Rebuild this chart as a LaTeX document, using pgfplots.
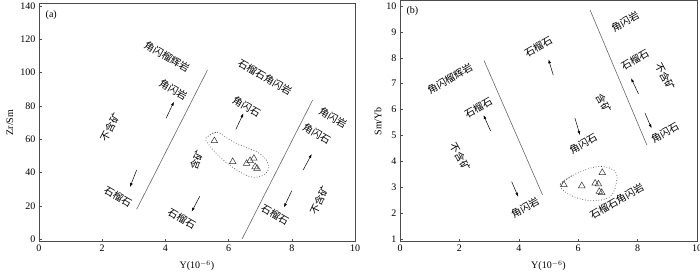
\documentclass[border=0pt]{standalone}
\usepackage{fontspec}
\setmainfont{Liberation Serif}
\newfontfamily\cjk{Noto Sans CJK SC}
\usepackage{pgfplots}
\pgfplotsset{compat=1.18}
\usetikzlibrary{arrows.meta}
\begin{document}
\begin{tikzpicture}
\useasboundingbox (0pt,0pt) rectangle (700pt,277pt);
\pgfplotsset{
  every axis/.append style={
    scale only axis,
    axis line style={black!70, line width=0.7pt},
    tick style={black!70, line width=0.5pt},
    tick align=inside,
    major tick length=3pt,
    xtick pos=bottom, ytick pos=left,
    xmin=0, xmax=10,
    xtick={0,2,4,6,8,10},
    clip=false,
    /pgf/number format/assume math mode=true,
    tick label style={font=\fontsize{10}{12}\selectfont},
    label style={font=\fontsize{10}{12}\selectfont},
    x label style={at={(axis description cs:0.5,0)}, anchor=center, yshift=-24pt},
  },
  bnd/.style={black!60, line width=0.6pt, no marks},
  arr/.style={black, line width=0.5pt, no marks, -{Latex[length=4pt,width=2.8pt]}},
  ell/.style={black!70, dotted, line width=0.7pt, no marks, smooth, tension=0.6},
  pts/.style={only marks, mark=triangle, mark size=3.8pt, black!80, mark options={fill=white, line width=0.5pt}},
}
\newcommand{\zh}[1]{{\cjk\fontsize{10}{12}\selectfont #1}}
% ---------------- panel (a)
\begin{axis}[
  at={(39pt,35.3pt)}, anchor=south west,
  width=316pt, height=238.4pt,
  ymin=-1.4, ymax=141.6, ytick={0,20,...,140},
  xlabel={Y(10$^{-6}$)},
  ylabel={Zr/Sm},
  y label style={at={(axis description cs:-0.092,0.5)}, anchor=center},
]
\addplot[bnd] coordinates {(3.09,18.0) (5.33,101.5)};
\addplot[bnd] coordinates {(6.43,0.4) (8.66,83.6)};
\addplot[arr] coordinates {(4.02,72.6) (4.27,82.5)};
\addplot[arr] coordinates {(3.09,41.6) (2.88,31.4)};
\addplot[arr] coordinates {(6.23,66.0) (6.47,75.6)};
\addplot[arr] coordinates {(5.09,25.9) (4.83,16.6)};
\addplot[arr] coordinates {(8.36,41.6) (8.63,51.2)};
\addplot[arr] coordinates {(8.00,29.2) (7.75,19.2)};
\addplot[ell] coordinates {(5.28,60.6) (5.62,64.3) (6.15,58.5) (6.89,52.5) (7.20,47.6) (7.26,42.0) (7.05,38.0) (6.68,37.6) (6.26,41.6) (5.83,47.6) (5.47,54.6) (5.28,60.6) (5.62,64.3)};
\addplot[pts] coordinates {(5.55,59.1) (6.13,46.6) (6.57,45.5) (6.68,47.2) (6.80,48.6) (6.84,43.5) (6.90,42.6)};
\node[anchor=north west] at (axis cs:0.1,139.5) {\fontsize{10}{12}\selectfont (a)};
\node[rotate=-30] at (axis cs:4.05,109.4) {\zh{角闪榴辉岩}};
\node[rotate=-30] at (axis cs:4.25,89.6) {\zh{角闪岩}};
\node[rotate=62] at (axis cs:2.25,67.3) {\zh{不含矿}};
\node[rotate=-30] at (axis cs:2.50,25.3) {\zh{石榴石}};
\node[rotate=-30] at (axis cs:7.15,97.3) {\zh{石榴石角闪岩}};
\node[rotate=-30] at (axis cs:6.57,79.6) {\zh{角闪石}};
\node[rotate=70] at (axis cs:4.99,47.6) {\zh{含矿}};
\node[rotate=-30] at (axis cs:4.52,12.6) {\zh{石榴石}};
\node[rotate=-30] at (axis cs:9.30,72.7) {\zh{角闪岩}};
\node[rotate=-30] at (axis cs:8.79,63.5) {\zh{角闪石}};
\node[rotate=65] at (axis cs:8.87,23.6) {\zh{不含矿}};
\node[rotate=-30] at (axis cs:7.47,14.6) {\zh{石榴石}};
\end{axis}
% ---------------- panel (b)
\begin{axis}[
  at={(400pt,35.3pt)}, anchor=south west,
  width=297pt, height=241pt,
  ymin=0.907, ymax=10.2, ytick={1,2,...,10},
  xlabel={Y(10$^{-6}$)},
  ylabel={Sm/Yb},
  y label style={at={(axis description cs:-0.074,0.5)}, anchor=center},
]
\addplot[bnd] coordinates {(2.83,7.89) (4.80,2.71)};
\addplot[bnd] coordinates {(6.40,9.84) (8.31,4.64)};
\addplot[arr] coordinates {(3.05,5.18) (2.81,5.79)};
\addplot[arr] coordinates {(3.76,3.22) (3.98,2.64)};
\addplot[arr] coordinates {(5.16,7.33) (5.00,7.94)};
\addplot[arr] coordinates {(5.89,5.67) (6.06,5.02)};
\addplot[arr] coordinates {(8.03,6.61) (7.78,7.21)};
\addplot[arr] coordinates {(8.25,5.86) (8.47,5.28)};
\addplot[ell] coordinates {(5.39,3.10) (5.84,3.48) (6.62,3.80) (7.18,3.68) (7.30,3.28) (7.07,2.64) (6.40,2.49) (5.72,2.71) (5.39,3.10) (5.84,3.48)};
\addplot[pts] coordinates {(5.52,3.10) (6.12,3.06) (6.57,3.16) (6.68,3.13) (6.81,3.57) (6.71,2.84) (6.79,2.80)};
\node[anchor=north west] at (axis cs:0.1,10.1) {\fontsize{10}{12}\selectfont (b)};
\node[rotate=30] at (axis cs:1.68,7.21) {\zh{角闪榴辉岩}};
\node[rotate=30] at (axis cs:2.64,6.08) {\zh{石榴石}};
\node[rotate=-60] at (axis cs:2.02,4.18) {\zh{不含矿}};
\node[rotate=30] at (axis cs:4.21,2.20) {\zh{角闪岩}};
\node[rotate=30] at (axis cs:4.66,8.43) {\zh{石榴石}};
\node[rotate=-60] at (axis cs:6.85,6.25) {\zh{含矿}};
\node[rotate=30] at (axis cs:6.17,4.70) {\zh{角闪石}};
\node[rotate=30] at (axis cs:7.30,2.45) {\zh{石榴石角闪岩}};
\node[rotate=30] at (axis cs:7.58,9.39) {\zh{角闪岩}};
\node[rotate=30] at (axis cs:7.91,7.91) {\zh{石榴石}};
\node[rotate=-62] at (axis cs:8.92,7.27) {\zh{不含矿}};
\node[rotate=30] at (axis cs:8.92,5.09) {\zh{角闪石}};
\end{axis}
\end{tikzpicture}
\end{document}
